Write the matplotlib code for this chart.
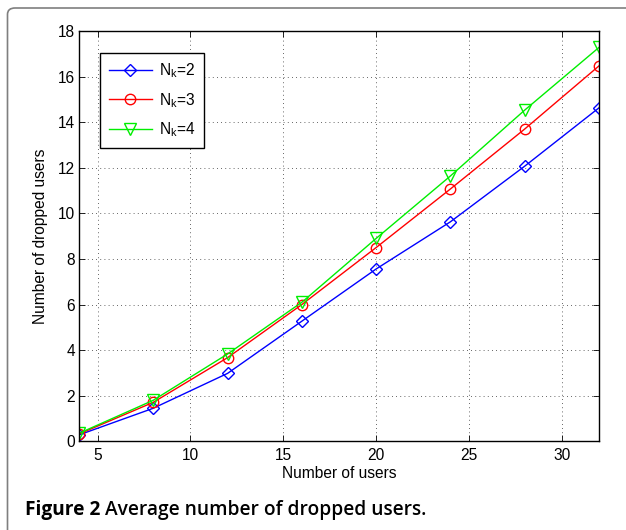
import matplotlib
matplotlib.use("Agg")
import matplotlib.pyplot as plt
from matplotlib.patches import FancyBboxPatch

# ─────────────────────────────────────
# DATA
# ─────────────────────────────────────
num_users = [4, 8, 12, 16, 20, 24, 28, 32]

dropped_nk2 = [0.28, 1.45, 2.98, 5.27, 7.56, 9.63, 12.07, 14.63]
dropped_nk3 = [0.32, 1.71, 3.67, 6.00, 8.50, 11.07, 13.70, 16.47]
dropped_nk4 = [0.35, 1.80, 3.83, 6.10, 8.90, 11.64, 14.53, 17.28]

labels = ["N$_\\mathregular{k}$=2", "N$_\\mathregular{k}$=3", "N$_\\mathregular{k}$=4"]

x_ticks = [5, 10, 15, 20, 25, 30]
y_ticks = [0, 2, 4, 6, 8, 10, 12, 14, 16, 18]

caption_bold = "Figure 2"
caption_rest = " Average number of dropped users."

# ─────────────────────────────────────
# FIGURE
# ─────────────────────────────────────
W, H = 626, 530
FS = 11.2
plt.rcParams["font.family"] = ["Liberation Sans", "DejaVu Sans"]
plt.rcParams["mathtext.fontset"] = "custom"
plt.rcParams["mathtext.rm"] = "Liberation Sans"

fig = plt.figure(figsize=(W / 100, H / 100), dpi=100)

# gray frame around the panel (rounded corner, runs off right/bottom)
frame = FancyBboxPatch((7.5 / W, -0.05), 1.2, (H - 8) / H + 0.05,
                       boxstyle="round,pad=0,rounding_size=0.012",
                       transform=fig.transFigure, facecolor="none",
                       edgecolor="#7f7f7f", linewidth=1.2)
fig.patches.append(frame)

ax = fig.add_axes([79 / W, 1 - 441.3 / H, 520 / W, 410.3 / H])

ax.plot(num_users, dropped_nk2, color="#0000ff", marker="D", markersize=6.5,
        markerfacecolor="none", markeredgewidth=1.0, linewidth=1.0, label=labels[0])
ax.plot(num_users, dropped_nk3, color="#ff0000", marker="o", markersize=7.5,
        markerfacecolor="none", markeredgewidth=1.0, linewidth=1.0, label=labels[1])
ax.plot(num_users, dropped_nk4, color="#00ee00", marker="v", markersize=8.5,
        markerfacecolor="none", markeredgewidth=1.0, linewidth=1.0, label=labels[2])

ax.set_xlim(4, 32)
ax.set_ylim(0, 18)
ax.set_xticks(x_ticks)
ax.set_yticks(y_ticks)
ax.tick_params(direction="in", top=True, right=True, length=4, width=0.6,
               labelsize=FS)
ax.tick_params(axis="x", pad=5)
ax.tick_params(axis="y", pad=3)
ax.grid(True, linestyle=(0, (1, 4)), color="#333333", linewidth=0.6)
for sp in ax.spines.values():
    sp.set_linewidth(1.0)

ax.set_xlabel("Number of users", fontsize=FS, labelpad=2)
ax.set_ylabel("Number of dropped users", fontsize=FS, labelpad=7)

leg = ax.legend(loc="upper left", bbox_to_anchor=(0.0404, 0.947),
                borderaxespad=0, fancybox=False, framealpha=1,
                edgecolor="black", fontsize=FS, handlelength=2.8,
                labelspacing=0.7, borderpad=0.55, handletextpad=0.45)
leg.get_frame().set_linewidth(1.0)

# caption
t1 = fig.text(25 / W, 1 - 515 / H, caption_bold, fontsize=13.8,
              fontweight="bold", family="Open Sans", va="baseline")
fig.canvas.draw()
bb = t1.get_window_extent()
fig.text(bb.x1 / W, 1 - 515 / H, caption_rest, fontsize=13.8,
         fontweight="semibold", family="Open Sans", va="baseline")

fig.savefig("out.png", dpi=100)
